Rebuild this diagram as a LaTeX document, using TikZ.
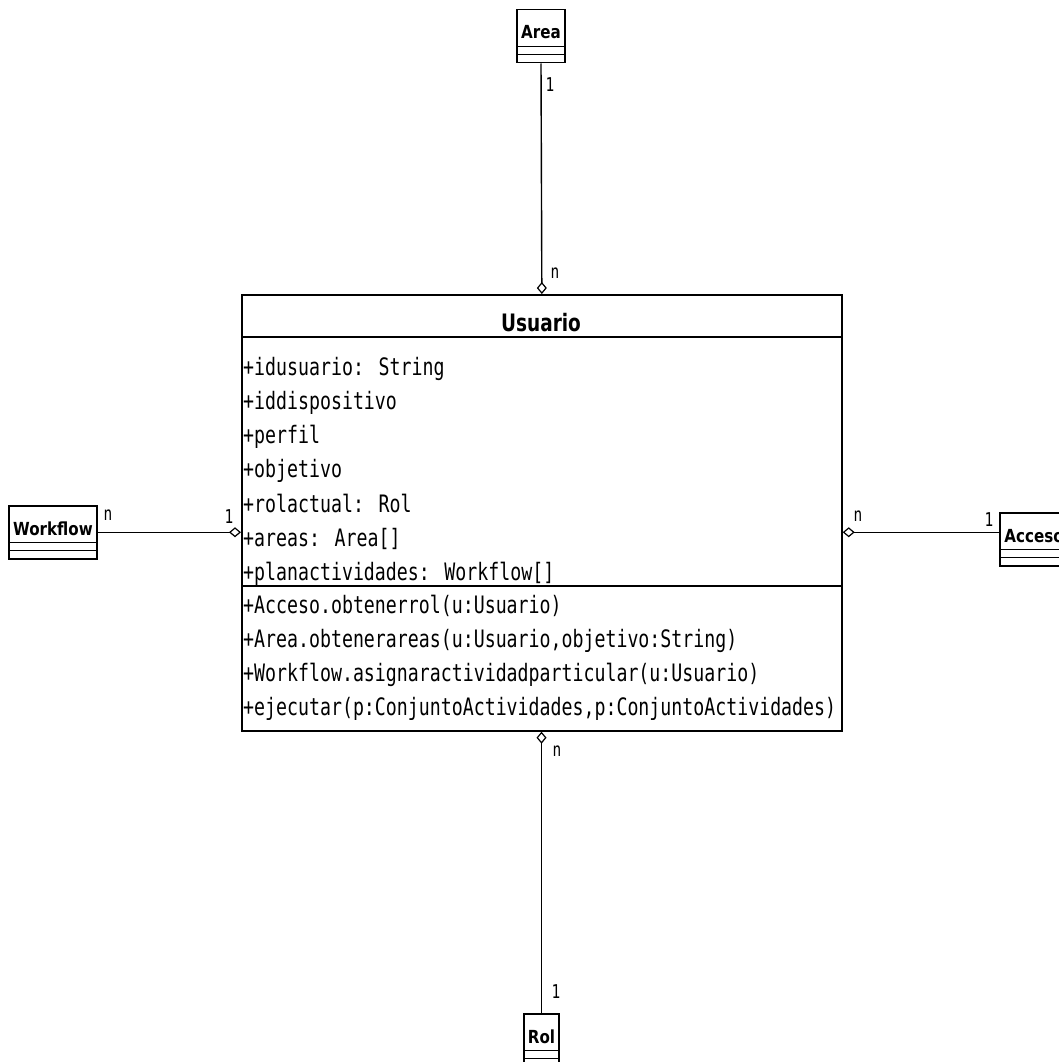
\documentclass[tikz,border=0pt]{standalone}
\usepackage{fontspec}
\usetikzlibrary{arrows.meta}
\newfontfamily\umono[FakeStretch=0.76]{DejaVu Sans Mono}
\newfontfamily\utitle[FakeStretch=0.77]{DejaVu Sans}
\newfontfamily\usmall[FakeStretch=0.84]{DejaVu Sans}
\begin{document}
\begin{tikzpicture}[x=1pt,y=-1pt,
  classbox/.style={draw, line width=1.5pt, inner sep=0pt, anchor=north, minimum height=53pt},
  agg/.style={line width=1.4pt, -{Diamond[open,length=12pt,width=10pt,line width=1.2pt]}},
  mult/.style={inner sep=0pt, font=\umono\fontsize{19}{19}\selectfont},
  member/.style={anchor=base west, inner sep=0pt, font=\umono\fontsize{24}{24}\selectfont},
  smalltitle/.style={anchor=base, inner sep=0pt, font=\usmall\bfseries\fontsize{18}{18}\selectfont},
  sep/.style={line width=1.5pt}]
\useasboundingbox (0,0) rectangle (1059,1062);
\clip (0,0) rectangle (1059,1062);
\fill[white] (0,0) rectangle (1059,1062);

% main class
\node[draw, line width=1.7pt, inner sep=0pt, anchor=north west,
      minimum width=600pt, minimum height=436pt] (usuario) at (241,294) {};
\draw[line width=1.7pt] ([yshift=-43pt]usuario.north west) -- ([yshift=-43pt]usuario.north east);
\draw[line width=1.7pt] ([yshift=-292pt]usuario.north west) -- ([yshift=-292pt]usuario.north east);
\node[anchor=base, inner sep=0pt, font=\utitle\bfseries\fontsize{24}{24}\selectfont] (usuario-name) at (541,331) {Usuario};

% attributes
\node[member] (a1) at (243,375.0) {+idusuario: String};
\node[member] (a2) at (243,409.3) {+iddispositivo};
\node[member] (a3) at (243,443.6) {+perfil};
\node[member] (a4) at (243,477.9) {+objetivo};
\node[member] (a5) at (243,512.2) {+rolactual: Rol};
\node[member] (a6) at (243,546.5) {+areas: Area[]};
\node[member] (a7) at (243,580.8) {+planactividades: Workflow[]};

% operations
\node[member] (m1) at (243,613.0) {+Acceso.obtenerrol(u:Usuario)};
\node[member] (m2) at (243,647.3) {+Area.obtenerareas(u:Usuario,objetivo:String)};
\node[member] (m3) at (243,681.6) {+Workflow.asignaractividadparticular(u:Usuario)};
\node[member] (m4) at (243,715.9) {+ejecutar(p:ConjuntoActividades,p:ConjuntoActividades)};

% associated classes
\node[classbox, minimum width=48pt] (area) at (541,9) {};
\node[classbox, minimum width=88pt] (workflow) at (53,505) {};
\node[classbox, minimum width=68pt] (acceso) at (1034,512) {};
\node[classbox, minimum width=35pt] (rol) at (541.5,1013) {};

\foreach \c in {area,workflow,acceso,rol}{
  \draw[sep] ([yshift=-37.5pt]\c.north west) -- ([yshift=-37.5pt]\c.north east);
  \draw[sep] ([yshift=-45.5pt]\c.north west) -- ([yshift=-45.5pt]\c.north east);
}
\node[smalltitle] (area-name) at ([yshift=-30pt]area.north) {Area};
\node[smalltitle] (workflow-name) at ([yshift=-30pt]workflow.north) {Workflow};
\node[smalltitle] (acceso-name) at ([yshift=-30pt]acceso.north) {Acceso};
\node[smalltitle] (rol-name) at ([yshift=-30pt]rol.north) {Rol};

% aggregations
\draw[agg] (area.south) -- (usuario.north);
\draw[agg] (rol.north) -- (rol.north |- usuario.south);
\draw[agg] (workflow.east) -- (workflow.east -| usuario.west);
\draw[agg] (acceso.west |- workflow.east) -- (usuario.east |- workflow.east);

% multiplicities
\node[mult] (m-area-1) at (550,85) {1};
\node[mult] (m-area-n) at (555,273) {n};
\node[mult] (m-wf-n) at (108,515) {n};
\node[mult] (m-wf-1) at (229,517) {1};
\node[mult] (m-acc-n) at (858,516) {n};
\node[mult] (m-acc-1) at (989,520) {1};
\node[mult] (m-rol-n) at (557,751) {n};
\node[mult] (m-rol-1) at (556,992) {1};
\end{tikzpicture}
\end{document}
